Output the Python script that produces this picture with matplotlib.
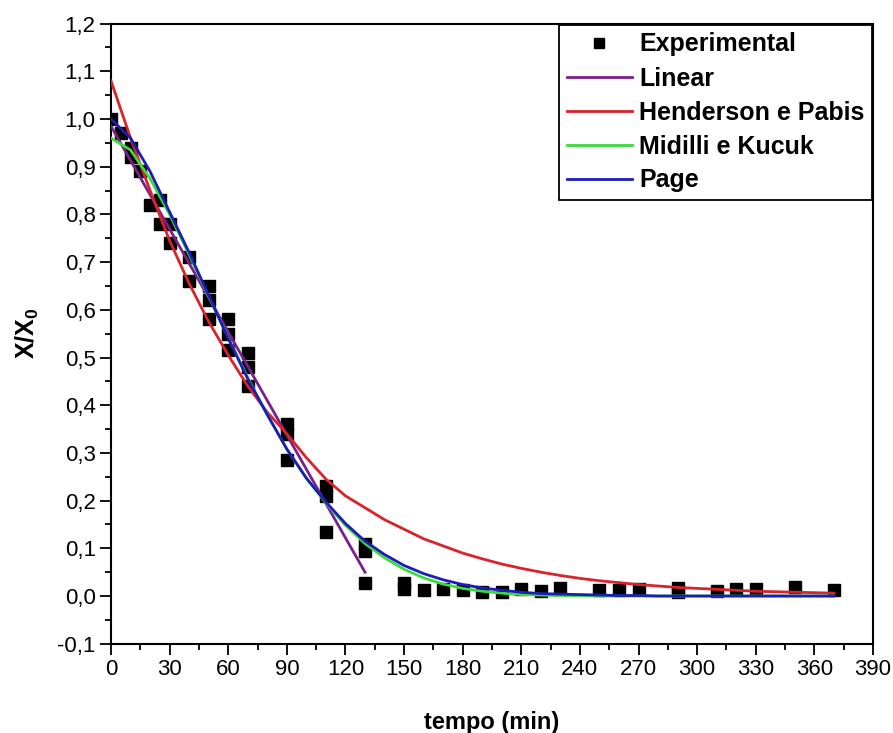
import matplotlib
matplotlib.use("Agg")
import matplotlib.pyplot as plt
from matplotlib.ticker import MultipleLocator, FuncFormatter

plt.rcParams['font.family'] = ['Liberation Sans', 'DejaVu Sans']
plt.rcParams['mathtext.fontset'] = 'custom'
plt.rcParams['mathtext.bf'] = 'Liberation Sans:bold'
plt.rcParams['mathtext.rm'] = 'Liberation Sans'

# experimental points (tempo in min, X/X0)
t_exp = [0, 5, 10, 10, 15, 20, 25, 25, 30, 30, 40, 40, 50, 50, 50, 60, 60, 60,
         70, 70, 70, 90, 90, 90, 110, 110, 110, 130, 130, 130, 150, 150, 160,
         170, 180, 190, 200, 210, 220, 230, 250, 260, 270, 290, 290, 310, 320,
         330, 350, 370]
x_exp = [1.0, 0.97, 0.94, 0.92, 0.89, 0.82, 0.83, 0.78, 0.78, 0.74, 0.71, 0.66,
         0.65, 0.62, 0.58, 0.58, 0.55, 0.515, 0.51, 0.48, 0.44, 0.36, 0.34,
         0.285, 0.23, 0.21, 0.135, 0.11, 0.095, 0.028, 0.027, 0.015, 0.013,
         0.015, 0.013, 0.008, 0.008, 0.015, 0.011, 0.016, 0.013, 0.013, 0.014,
         0.016, 0.008, 0.011, 0.015, 0.015, 0.019, 0.013]

# model curves
t_lin = [0, 130]
x_lin = [0.985, 0.05]

t_fit = [0, 10, 20, 30, 40, 50, 60, 70, 80, 90, 100, 110, 120, 130, 140, 150,
         160, 170, 180, 190, 200, 210, 220, 230, 240, 250, 260, 270, 280, 290,
         300, 310, 320, 330, 340, 350, 360, 370]
x_hp = [1.08, 0.96, 0.85, 0.745, 0.655, 0.575, 0.505, 0.44, 0.385, 0.34, 0.29,
        0.245, 0.21, 0.185, 0.16, 0.14, 0.12, 0.105, 0.09, 0.078, 0.067, 0.058,
        0.05, 0.043, 0.037, 0.032, 0.028, 0.024, 0.021, 0.018, 0.016, 0.014,
        0.012, 0.01, 0.009, 0.008, 0.007, 0.006]
x_mk = [0.96, 0.935, 0.875, 0.8, 0.715, 0.628, 0.542, 0.458, 0.38, 0.308, 0.247,
        0.195, 0.148, 0.11, 0.08, 0.056, 0.038, 0.025, 0.016, 0.01, 0.006,
        0.003, 0.002, 0.001, 0.001, 0.0, 0.0, 0.0, 0.0, 0.0, 0.0, 0.0, 0.0,
        0.0, 0.0, 0.0, 0.0, 0.0]
x_page = [1.0, 0.96, 0.89, 0.805, 0.72, 0.63, 0.54, 0.455, 0.38, 0.308, 0.247,
          0.197, 0.152, 0.115, 0.087, 0.064, 0.047, 0.034, 0.024, 0.017, 0.012,
          0.008, 0.005, 0.004, 0.003, 0.002, 0.001, 0.001, 0.0, 0.0, 0.0, 0.0,
          0.0, 0.0, 0.0, 0.0, 0.0, 0.0]

fig = plt.figure(figsize=(8.93, 7.33), dpi=100)
ax = fig.add_axes([0.1243, 0.1218, 0.8533, 0.846])

ax.plot(t_exp, x_exp, 's', color='black', markersize=8, linestyle='none',
        label='Experimental', zorder=2)
ax.plot(t_lin, x_lin, '-', color='#7B1F8C', lw=2, label='Linear', zorder=3)
ax.plot(t_fit, x_hp, '-', color='#D8232A', lw=2, label='Henderson e Pabis', zorder=3)
ax.plot(t_fit, x_mk, '-', color='#3ADB3A', lw=2, label='Midilli e Kucuk', zorder=3)
ax.plot(t_fit, x_page, '-', color='#1C1CB8', lw=2, label='Page', zorder=4)

ax.set_xlim(0, 390)
ax.set_ylim(-0.1, 1.2)
ax.xaxis.set_major_locator(MultipleLocator(30))
ax.xaxis.set_minor_locator(MultipleLocator(15))
ax.yaxis.set_major_locator(MultipleLocator(0.1))
ax.yaxis.set_minor_locator(MultipleLocator(0.05))
ax.yaxis.set_major_formatter(FuncFormatter(lambda v, p: f"{v:.1f}".replace('.', ',').replace('-0,0', '0,0')))

ax.tick_params(which='both', direction='out', top=False, right=False, width=1.3)
ax.tick_params(which='major', length=8, labelsize=16, pad=3)
ax.tick_params(which='minor', length=4)
for s in ax.spines.values():
    s.set_linewidth(1.5)

ax.set_xlabel('tempo (min)', fontsize=17, fontweight='bold', labelpad=22)
ax.set_ylabel(r'$\mathbf{X/X_0}$', fontsize=18, labelpad=12)

leg = ax.legend(loc='upper right', bbox_to_anchor=(872 / 893, 1 - 25 / 733),
                bbox_transform=fig.transFigure, borderaxespad=0,
                prop={'weight': 'bold', 'size': 18}, frameon=True,
                fancybox=False, edgecolor='black', framealpha=1,
                handlelength=2.6, handletextpad=0.3, labelspacing=0.4,
                borderpad=0.3, markerscale=0.85)
leg.get_frame().set_linewidth(1.3)

fig.savefig('out.png', dpi=100)
